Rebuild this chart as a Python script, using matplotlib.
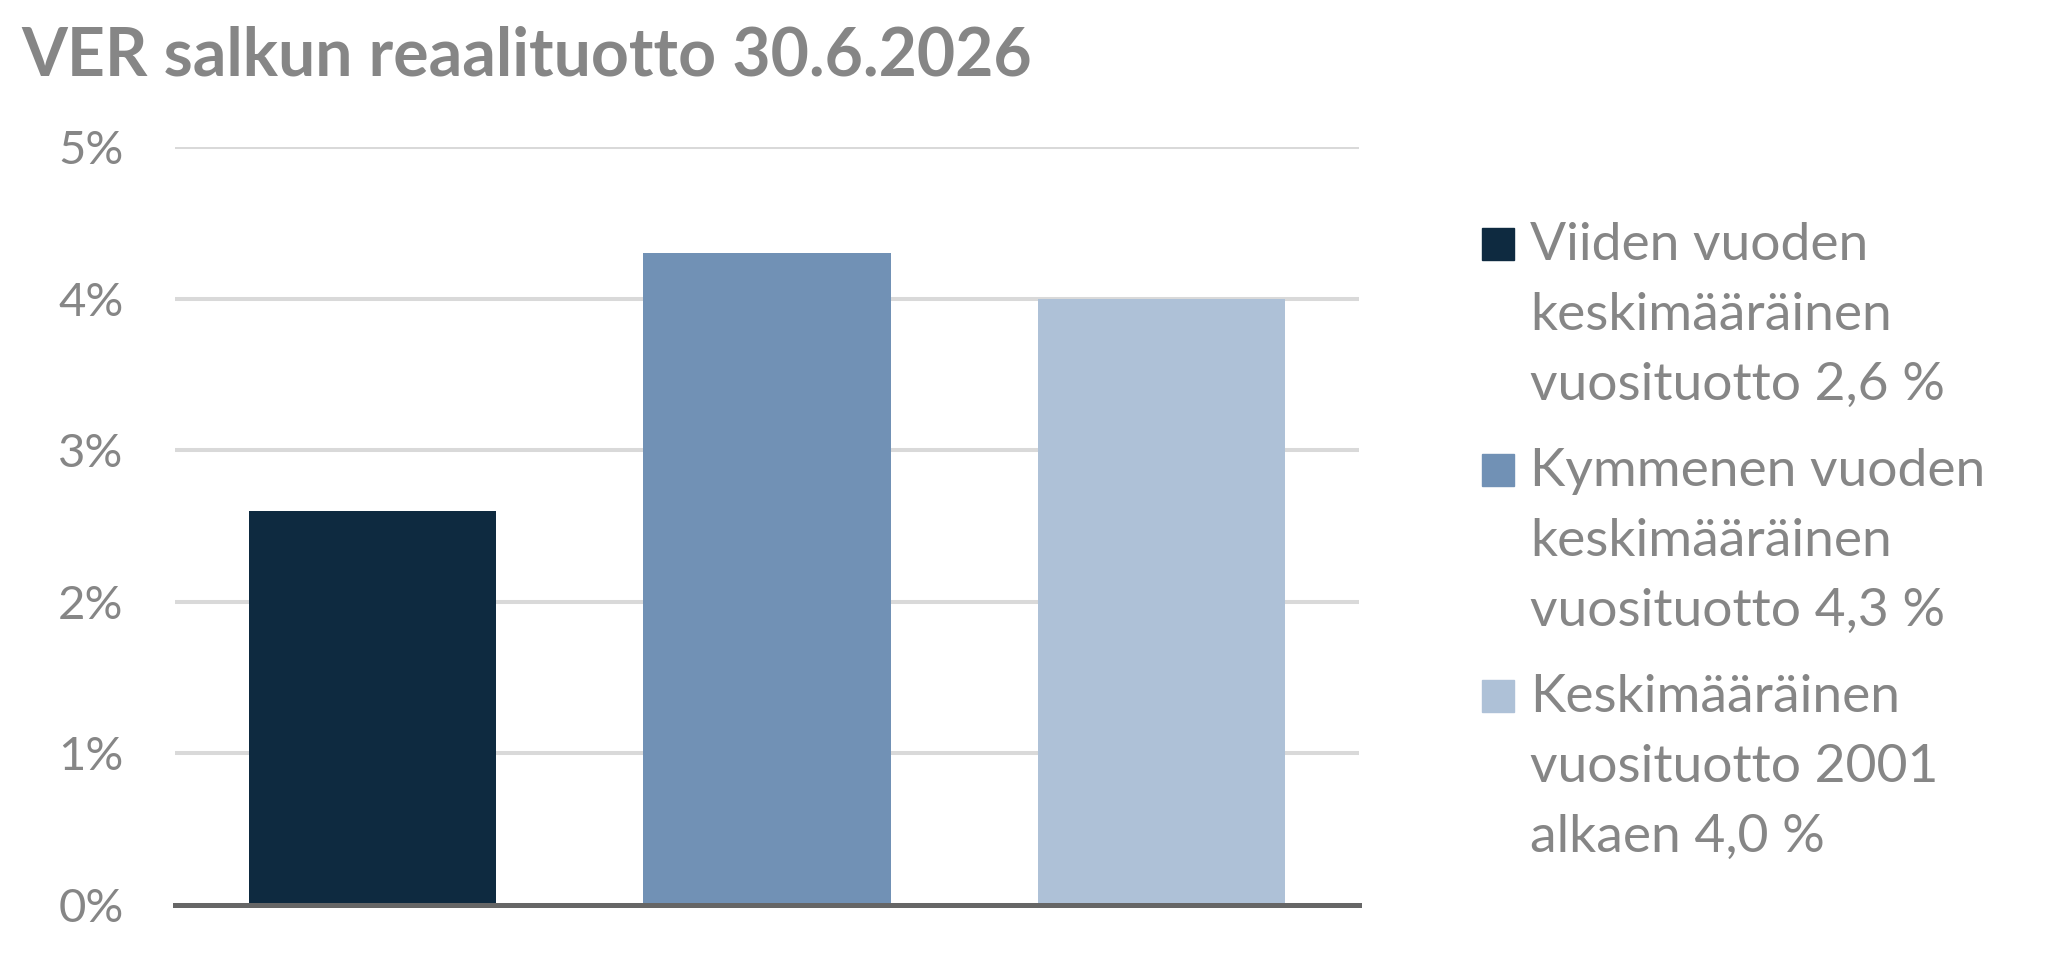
import matplotlib
matplotlib.use("Agg")
import matplotlib.pyplot as plt
from matplotlib.patches import Rectangle

# data
categories = ["Viiden vuoden\nkeskimääräinen\nvuosituotto 2,6 %",
              "Kymmenen vuoden\nkeskimääräinen\nvuosituotto 4,3 %",
              "Keskimääräinen\nvuosituotto 2001\nalkaen 4,0 %"]
values = [2.6, 4.3, 4.0]
bar_colors = ["#0e2a40", "#7191b5", "#aec1d7"]
yticks = [0, 1, 2, 3, 4, 5]
ytick_labels = ["0%", "1%", "2%", "3%", "4%", "5%"]
title = "VER salkun reaalituotto 30.6.2026"

W, H = 2059, 960
FAM = "Lato"
TEXT = "#868686"

fig = plt.figure(figsize=(W / 100, H / 100), dpi=100)
# axes box in pixels: x 175..1359, y 147 (5%) .. 905 (0%)
ax = fig.add_axes([175 / W, (H - 905) / H, (1359 - 175) / W, (905 - 147) / H])

x = range(len(values))
ax.bar(x, values, width=0.626, color=bar_colors, zorder=2)
ax.set_xlim(-0.5, 2.5)
ax.set_ylim(0, 5)
ax.set_yticks(yticks)
ax.set_yticklabels(ytick_labels, family=FAM, fontsize=34, color=TEXT)
ax.set_xticks([])
ax.tick_params(axis="y", length=0, pad=37)
ax.yaxis.grid(True, color="#d9d9d9", linewidth=2.9, zorder=0)
ax.set_axisbelow(True)
for s in ["top", "right", "left"]:
    ax.spines[s].set_visible(False)
ax.spines["bottom"].set_color("#666666")
ax.spines["bottom"].set_linewidth(3.6)
ax.spines["bottom"].set_zorder(3)

fig.text(21 / W, (H - 75) / H, title, family=FAM, fontweight="bold",
         fontsize=47.6, color=TEXT, va="baseline", ha="left")

# legend drawn by hand: square + wrapped label lines
for i, (lab, col) in enumerate(zip(categories, bar_colors)):
    base = 260 + i * 226
    fig.patches.append(Rectangle((1482 / W, (H - base) / H), 32 / W, 32 / H,
                                 transform=fig.transFigure, color=col))
    for j, line in enumerate(lab.split("\n")):
        fig.text(1530 / W, (H - base - 70 * j) / H, line, family=FAM,
                 fontsize=38.4, color=TEXT, va="baseline", ha="left")

fig.savefig("out.png", dpi=100)
